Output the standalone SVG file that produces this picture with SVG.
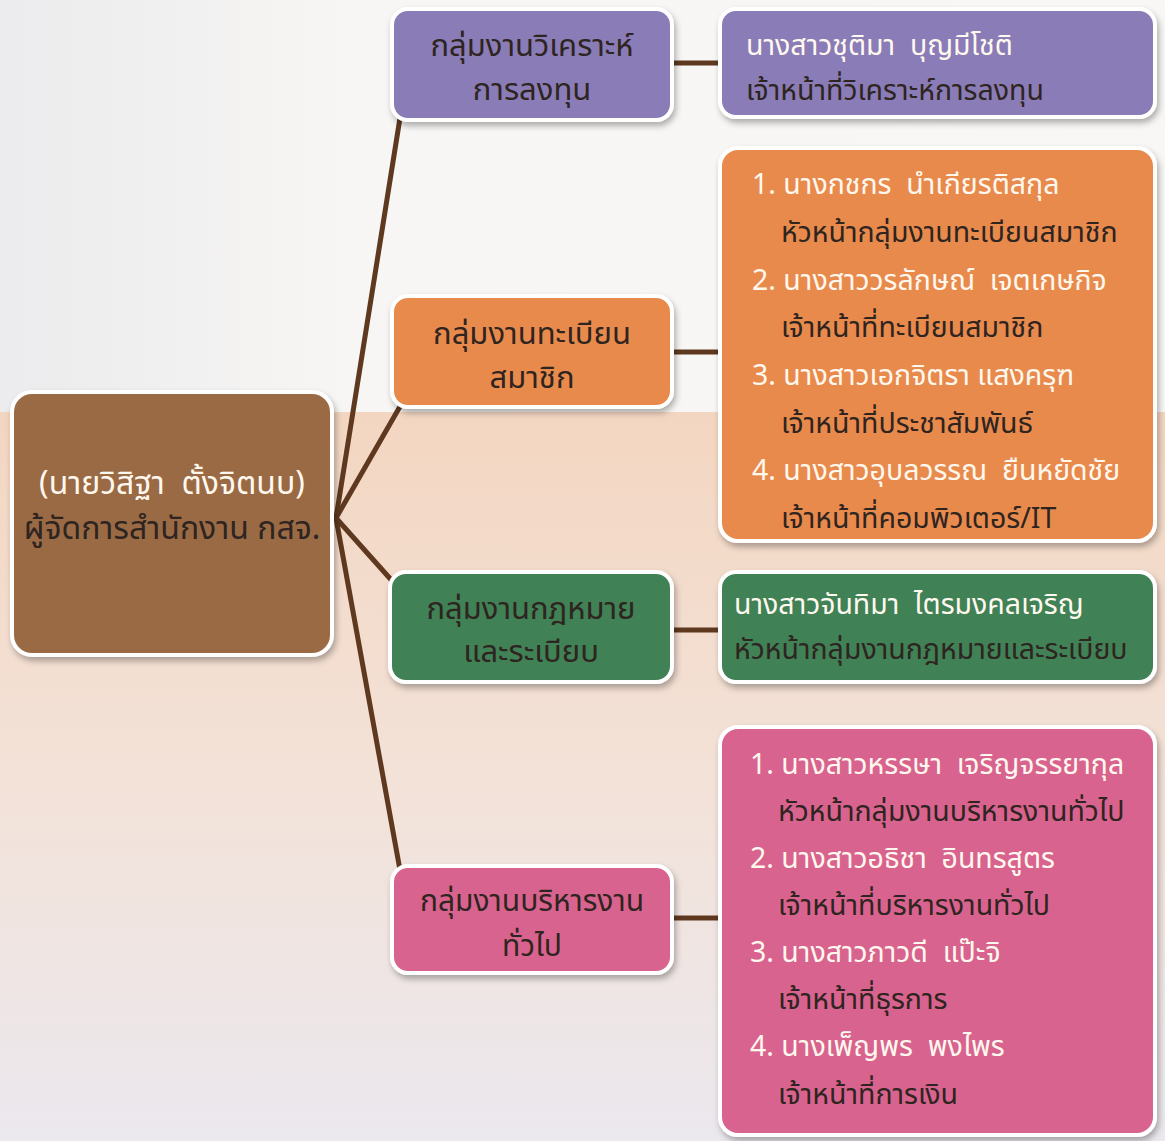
<svg xmlns="http://www.w3.org/2000/svg" width="1165" height="1141" viewBox="0 0 1165 1141">
<defs>
<linearGradient id="bgLow" x1="0" y1="0" x2="0" y2="1">
<stop offset="0" stop-color="#f3d6c1"/>
<stop offset="0.5" stop-color="#f3e2d8"/>
<stop offset="1" stop-color="#ebe8ee"/>
</linearGradient>
<linearGradient id="bgTop" x1="0" y1="0" x2="1" y2="0">
<stop offset="0" stop-color="#ecebed"/>
<stop offset="0.3" stop-color="#f7f6f4"/>
<stop offset="1" stop-color="#f8f7f5"/>
</linearGradient>
<filter id="sh" x="-10%" y="-10%" width="125%" height="130%">
<feDropShadow dx="2" dy="4" stdDeviation="3" flood-color="#000" flood-opacity="0.3"/>
</filter>
</defs>
<style>
.box{stroke:#ffffff;stroke-width:4;filter:url(#sh)}
.root{fill:#9a6a45}
.pur{fill:#8a7cb7}
.org{fill:#e98a4d}
.grn{fill:#3f8157}
.pnk{fill:#d9648f}
text{font-family:"Noto Sans Thai","Noto Sans","Liberation Sans",sans-serif;white-space:pre}
.t{font-size:31px;fill:#2e2420;text-anchor:middle}
.r{font-size:28.5px}
.w{fill:#fff8ee}
.d{fill:#2e2420}
.c{stroke:#5e381f;stroke-width:5;fill:none;stroke-linecap:round}
</style>
<rect x="0" y="0" width="1165" height="412" fill="url(#bgTop)"/>
<rect x="0" y="412" width="1165" height="729" fill="url(#bgLow)"/>
<g id="connectors">
<line class="c" x1="336" y1="518" x2="400" y2="118"/>
<line class="c" x1="336" y1="518" x2="402" y2="403"/>
<line class="c" x1="336" y1="518" x2="394" y2="583"/>
<line class="c" x1="336" y1="518" x2="400" y2="870"/>
<line class="c" x1="672" y1="63" x2="720" y2="63"/>
<line class="c" x1="672" y1="352" x2="720" y2="352"/>
<line class="c" x1="672" y1="630" x2="720" y2="630"/>
<line class="c" x1="672" y1="918" x2="720" y2="918"/>
</g>
<g id="root">
<rect class="box root" x="12" y="392" width="320" height="263" rx="20"/>
<text x="172" y="494" class="t w" style="font-size:32px">(นายวิสิฐา  ตั้งจิตนบ)</text>
<text x="172" y="539" class="t d" style="font-size:32px">ผู้จัดการสำนักงาน กสจ.</text>
</g>
<g id="g-invest">
<rect class="box pur" x="392" y="9" width="280" height="111" rx="16"/>
<text x="532" y="56" class="t">กลุ่มงานวิเคราะห์</text>
<text x="532" y="100" class="t">การลงทุน</text>
</g>
<g id="p-invest">
<rect class="box pur" x="720" y="9" width="435" height="108" rx="16"/>
<text x="746" y="55" class="r w">นางสาวชุติมา  บุญมีโชติ</text>
<text x="746" y="100" class="r d">เจ้าหน้าที่วิเคราะห์การลงทุน</text>
</g>
<g id="g-member">
<rect class="box org" x="392" y="296" width="280" height="111" rx="16"/>
<text x="532" y="344" class="t">กลุ่มงานทะเบียน</text>
<text x="532" y="388" class="t">สมาชิก</text>
</g>
<g id="p-member">
<rect class="box org" x="720" y="148" width="435" height="393" rx="18"/>
<text x="752" y="194" class="r w">1. นางกชกร  นำเกียรติสกุล</text>
<text x="781" y="242" class="r d">หัวหน้ากลุ่มงานทะเบียนสมาชิก</text>
<text x="752" y="290" class="r w">2. นางสาววรลักษณ์  เจตเกษกิจ</text>
<text x="781" y="337" class="r d">เจ้าหน้าที่ทะเบียนสมาชิก</text>
<text x="752" y="385" class="r w">3. นางสาวเอกจิตรา แสงครุฑ</text>
<text x="781" y="433" class="r d">เจ้าหน้าที่ประชาสัมพันธ์</text>
<text x="752" y="480" class="r w">4. นางสาวอุบลวรรณ  ยืนหยัดชัย</text>
<text x="781" y="528" class="r d">เจ้าหน้าที่คอมพิวเตอร์/IT</text>
</g>
<g id="g-law">
<rect class="box grn" x="390" y="572" width="282" height="110" rx="16"/>
<text x="531" y="619" class="t">กลุ่มงานกฎหมาย</text>
<text x="531" y="662" class="t">และระเบียบ</text>
</g>
<g id="p-law">
<rect class="box grn" x="720" y="572" width="435" height="110" rx="16"/>
<text x="734" y="614" class="r w">นางสาวจันทิมา  ไตรมงคลเจริญ</text>
<text x="734" y="659" class="r d">หัวหน้ากลุ่มงานกฎหมายและระเบียบ</text>
</g>
<g id="g-admin">
<rect class="box pnk" x="392" y="866" width="280" height="107" rx="16"/>
<text x="532" y="911" class="t" style="font-size:30px">กลุ่มงานบริหารงาน</text>
<text x="532" y="956" class="t" style="font-size:30px">ทั่วไป</text>
</g>
<g id="p-admin">
<rect class="box pnk" x="720" y="727" width="435" height="408" rx="18"/>
<text x="750" y="774" class="r w">1. นางสาวหรรษา  เจริญจรรยากุล</text>
<text x="778" y="821" class="r d">หัวหน้ากลุ่มงานบริหารงานทั่วไป</text>
<text x="750" y="868" class="r w">2. นางสาวอธิชา  อินทรสูตร</text>
<text x="778" y="915" class="r d">เจ้าหน้าที่บริหารงานทั่วไป</text>
<text x="750" y="962" class="r w">3. นางสาวภาวดี  แป๊ะจิ</text>
<text x="778" y="1009" class="r d">เจ้าหน้าที่ธุรการ</text>
<text x="750" y="1056" class="r w">4. นางเพ็ญพร  พงไพร</text>
<text x="778" y="1104" class="r d">เจ้าหน้าที่การเงิน</text>
</g>
</svg>
